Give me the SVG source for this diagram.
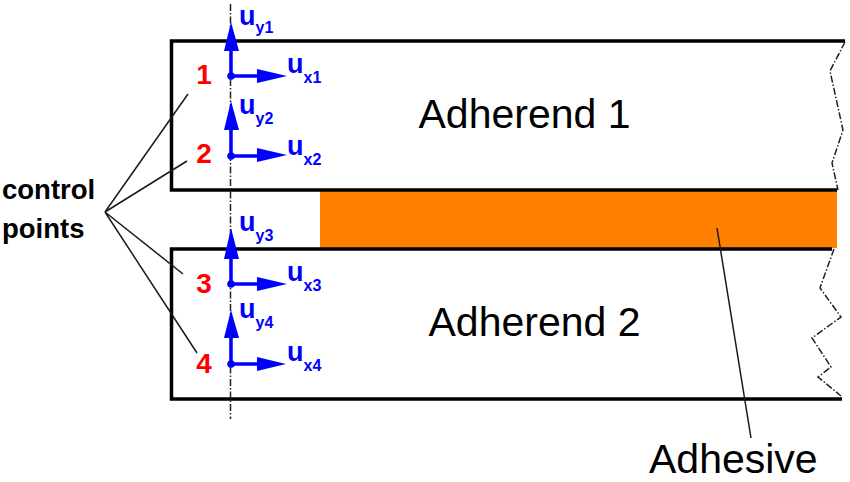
<svg xmlns="http://www.w3.org/2000/svg" width="850" height="482" viewBox="0 0 850 482">
<style>
text{font-family:"Liberation Sans",Arial,sans-serif}
.b{fill:none;stroke:#000;stroke-width:3.500}
.l{fill:none;stroke:#1a1a1a;stroke-width:1.500}
.w{fill:none;stroke:#222;stroke-width:1.500;stroke-dasharray:7 2 1.500 2}
.ax{stroke:#0000ff;stroke-width:3.500;fill:none}
.ah{fill:#0000ff}
.n{fill:#ff0000;font-weight:bold;font-size:28px;text-anchor:middle}
.u{fill:#0000ff;font-weight:bold;font-size:27px}
.s{fill:#0000ff;font-weight:bold;font-size:16px}
.t{fill:#000;font-size:41px}
.c{fill:#000;font-weight:bold;font-size:27.500px}
</style>
<g id="adhesive"><rect x="320" y="191" width="517" height="57" fill="#ff8000"/><text class="t" x="649" y="473">Adhesive</text></g>
<g id="adherend1"><path class="b" d="M845 41H171.500V190H837"/><text class="t" x="418.500" y="128">Adherend 1</text></g>
<g id="adherend2"><path class="b" d="M832 249H171.500V399H842"/><text class="t" x="428.500" y="336">Adherend 2</text></g>
<g id="connectors">
<path class="w" d="M230.500 4V419"/>
<path class="w" d="M845 42L830 71L843 130L832 163L838 190"/>
<path class="w" d="M834 249L820 288L841 317L812 338L831 367L818 377L841 396"/>
<path class="l" d="M188 94L105 212L187 161M105 212L183 274M105 212L197 353"/>
<path class="l" d="M717 228L751 438"/>
</g>
<g id="point1"><text class="n" x="204" y="84">1</text>
<path class="ax" d="M231 76V45M231 76H262"/><path class="ah" d="M231 22L239 51H224ZM287 76L257 69V83Z"/><circle class="ah" cx="231" cy="76" r="3.800"/>
<text class="u" x="239" y="25">u<tspan class="s" dy="8">y1</tspan></text><text class="u" x="287" y="73">u<tspan class="s" dy="10">x1</tspan></text></g>
<g id="point2"><text class="n" x="204" y="163">2</text>
<path class="ax" d="M231 156V125M231 156H262"/><path class="ah" d="M231 101L239 130H224ZM287 155L257 148V162Z"/><circle class="ah" cx="231" cy="156" r="3.800"/>
<text class="u" x="239" y="114">u<tspan class="s" dy="10">y2</tspan></text><text class="u" x="287" y="155">u<tspan class="s" dy="10">x2</tspan></text></g>
<g id="point3"><text class="n" x="204" y="293">3</text>
<path class="ax" d="M231 284V253M231 284H262"/><path class="ah" d="M231 228L239 259H224ZM287 284L257 277V291Z"/><circle class="ah" cx="231" cy="284" r="3.800"/>
<text class="u" x="239" y="231">u<tspan class="s" dy="10">y3</tspan></text><text class="u" x="287" y="281">u<tspan class="s" dy="10">x3</tspan></text></g>
<g id="point4"><text class="n" x="204" y="373">4</text>
<path class="ax" d="M231 364V333M231 364H262"/><path class="ah" d="M231 310L239 338H224ZM286 364L257 357V371Z"/><circle class="ah" cx="231" cy="364" r="3.800"/>
<text class="u" x="239" y="318">u<tspan class="s" dy="10">y4</tspan></text><text class="u" x="287" y="361">u<tspan class="s" dy="10">x4</tspan></text></g>
<g id="control-points"><text class="c" x="2" y="199">control</text><text class="c" x="2" y="238">points</text></g>
</svg>
